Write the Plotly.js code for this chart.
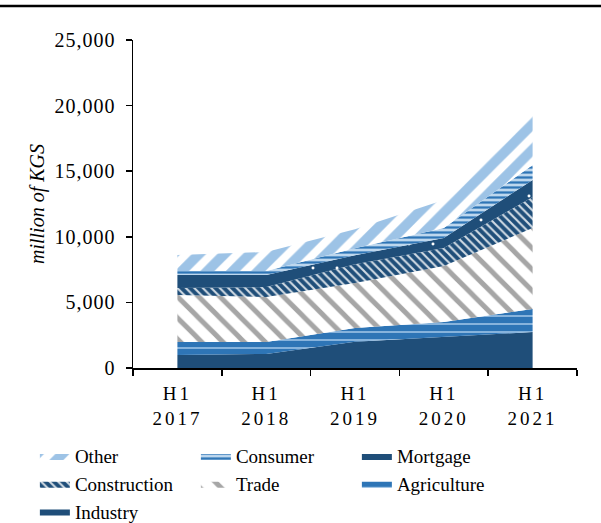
<!DOCTYPE html>
<html>
<head>
<meta charset="utf-8">
<script src="https://cdn.plot.ly/plotly-3.0.1.min.js"></script>
<style>
  html, body { margin: 0; padding: 0; background: #fff; }
  #chart { width: 601px; height: 523px; }
  .xtick text { letter-spacing: 3px; }
  .ytick text { letter-spacing: 1px; }
</style>
</head>
<body>
<div id="chart"></div>
<script>
// ---- data (million of KGS) ----
const categories = ['H1 2017', 'H1 2018', 'H1 2019', 'H1 2020', 'H1 2021'];
const tickLabels = ['H1<br>2017', 'H1<br>2018', 'H1<br>2019', 'H1<br>2020', 'H1<br>2021'];
const industry     = [1000, 1070, 2000, 2360, 2740];
const agriculture  = [980, 910, 1050, 1150, 1760];
const trade        = [3580, 3430, 3430, 4260, 6170];
const construction = [540, 760, 1420, 1380, 2360];
const mortgage     = [990, 920, 700, 760, 1300];
const consumer     = [300, 300, 530, 760, 1140];
const other        = [1220, 1450, 1450, 2130, 4270];
const yTicks = [0, 5000, 10000, 15000, 20000, 25000];

const NAVY = '#1F4E79';
const BLUE = '#2E75B6';
const LIGHT = '#9DC3E6';
const GRAY = '#A6A6A6';

function area(name, y, pattern) {
  return {
    type: 'scatter', mode: 'lines', name: name,
    x: categories, y: y,
    stackgroup: 'one',
    line: { width: 0, color: pattern.bgcolor },
    fillcolor: pattern.bgcolor,
    fillpattern: pattern,
    hoverinfo: 'skip'
  };
}

const traces = [
  area('Industry', industry, { shape: '', bgcolor: NAVY, fgcolor: NAVY }),
  area('Agriculture', agriculture, { shape: '-', bgcolor: BLUE, fgcolor: LIGHT, size: 8, solidity: 0.2 }),
  area('Trade', trade, { shape: '\\', bgcolor: '#FFFFFF', fgcolor: GRAY, size: 15, solidity: 0.33 }),
  area('Construction', construction, { shape: '\\', bgcolor: NAVY, fgcolor: 'rgba(255,255,255,0.8)', size: 6, solidity: 0.35 }),
  area('Mortgage', mortgage, { shape: '.', bgcolor: NAVY, fgcolor: '#FFFFFF', size: 24, solidity: 0.012 }),
  area('Consumer', consumer, { shape: '-', bgcolor: '#BDD7EE', fgcolor: BLUE, size: 5, solidity: 0.45 }),
  area('Other', other, { shape: '/', bgcolor: '#FFFFFF', fgcolor: LIGHT, size: 18, solidity: 0.55 })
];

const FONT = 'Liberation Serif, Times New Roman, serif';

const layout = {
  width: 601, height: 523,
  margin: { l: 133, r: 24, t: 40, b: 155, autoexpand: false },
  paper_bgcolor: '#FFFFFF', plot_bgcolor: '#FFFFFF',
  font: { family: FONT, size: 20, color: '#000000' },
  showlegend: true,
  xaxis: {
    type: 'category',
    range: [-0.5, 4.5],
    tickvals: categories, ticktext: tickLabels,
    tickson: 'boundaries',
    ticks: 'outside', ticklen: 6, tickwidth: 1.5, tickcolor: '#000',
    showline: true, linecolor: '#000', linewidth: 1.5,
    showgrid: false, zeroline: false,
    ticklabelstandoff: 8,
    tickfont: { family: FONT, size: 19, color: '#000' },
    fixedrange: true
  },
  yaxis: {
    range: [0, 25000],
    tickvals: yTicks,
    tickformat: ',',
    ticks: 'outside', ticklen: 6, tickwidth: 1.5, tickcolor: '#000',
    showline: true, linecolor: '#000', linewidth: 1.5,
    showgrid: false, zeroline: false,
    ticklabelstandoff: 6,
    tickfont: { family: FONT, size: 20, color: '#000' },
    title: { text: 'million of KGS', font: { family: FONT, size: 20, style: 'italic', color: '#000' }, standoff: 4 },
    fixedrange: true
  },
  legend: {
    orientation: 'h',
    traceorder: 'reversed',
    x: -0.221, xanchor: 'left',
    y: -0.211, yanchor: 'top',
    entrywidth: 116, entrywidthmode: 'pixels',
    font: { family: FONT, size: 19, color: '#000' },
    bgcolor: 'rgba(0,0,0,0)'
  },
  shapes: [{
    type: 'line', xref: 'paper', yref: 'paper',
    x0: -0.31, x1: 1.06, y0: 1.1037, y1: 1.1037,
    line: { color: '#000', width: 2.5 }
  }]
};

Plotly.newPlot('chart', traces, layout, { displayModeBar: false, staticPlot: true });
</script>
</body>
</html>
